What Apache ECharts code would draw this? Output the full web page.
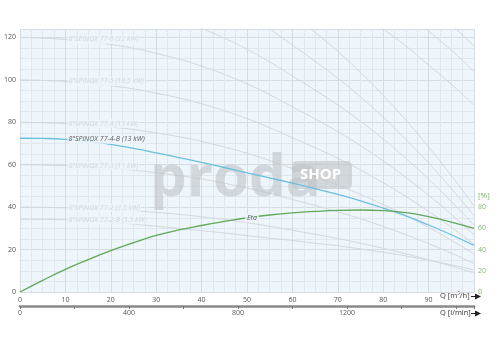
<!DOCTYPE html>
<html><head><meta charset="utf-8">
<script src="https://cdn.jsdelivr.net/npm/echarts@6/dist/echarts.min.js"></script>
<style>html,body{margin:0;padding:0;background:#fff}#c{width:503px;height:350px}</style>
</head><body><div id="c"></div>
<script>
// Flow rate Q [m3/h]
var flowQ = [0,5,10,15,20,25,30,35,40,45,50,55,60,65,70,75,80,85,90,95,100];
// Head curves [m]
var head_77_4_B = [72.5,72.4,72.0,71.1,69.6,67.7,65.6,63.4,61.1,58.7,56.2,53.8,51.3,48.7,46.0,43.0,39.6,35.9,31.6,27.0,22.0];
var eta_77_4_B  = [0,11,21.3,30.5,39,46.5,53.3,58.5,62.7,66.5,70,72.6,74.6,76,77,77.3,76.7,74.8,71,66,60];
var head_77_6   = [120,119.7,119.1,118.2,116.7,114.9,112.5,109.8,106.5,102.6,98.1,93,87.3,81.6,75.6,69,61.8,54,45.6,36.6,27];
var head_77_5   = [100,99.75,99.25,98.5,97.25,95.75,93.75,91.5,88.75,85.5,81.75,77.5,72.75,68,63,57.5,51.5,45,38,30.5,22.5];
var head_77_4   = [80,79.8,79.4,78.8,77.8,76.6,75,73.2,71,68.4,65.4,62,58.2,54.4,50.4,46,41.2,36,30.4,24.4,18];
var head_77_3   = [60,59.85,59.55,59.1,58.35,57.45,56.25,54.9,53.25,51.3,49.05,46.5,43.65,40.8,37.8,34.5,30.9,27,22.8,18.3,13.5];
var head_77_2   = [40,39.9,39.7,39.4,38.9,38.3,37.5,36.6,35.5,34.2,32.7,31,29.1,27.2,25.2,23,20.6,18,15.2,12.2,9];
var head_77_2_B = [34.3,34.25,34.05,33.6,32.9,32,31,30,28.9,27.8,26.6,25.4,24.3,23,21.8,20.3,18.7,17,14.9,12.8,10.4];
// unlabeled curves entering from the top
var head_up_1 = [140,139.65,138.95,137.9,136.15,134.05,131.25,128.1,124.25,119.7,114.45,108.5,101.85,95.2,88.2,80.5,72.1,63,53.2,42.7,31.5];
var head_up_2 = [160,159.6,158.8,157.6,155.6,153.2,150,146.4,142,136.8,130.8,124,116.4,108.8,100.8,92,82.4,72,60.8,48.8,36];
var head_up_3 = [180,179.55,178.65,177.3,175.05,172.35,168.75,164.7,159.75,153.9,147.15,139.5,130.95,122.4,113.4,103.5,92.7,81,68.4,54.9,40.5];
var head_up_4 = [null,null,null,null,null,null,null,null,null,null,null,null,null,null,140,132,124,116,107,98,88];
var head_up_5 = [null,null,null,null,null,null,null,null,null,null,null,null,null,null,null,null,140,132,123,114,104];
var head_up_6 = [null,null,null,null,null,null,null,null,null,null,null,null,null,null,null,null,null,null,135,126,116];

var grayNames = ['8"SPINOX 77-6 (22 kW)','8"SPINOX 77-5 (18.5 kW)','8"SPINOX 77-4 (15 kW)','8"SPINOX 77-3 (11 kW)','8"SPINOX 77-2 (7.5 kW)','8"SPINOX 77-2-B (5.5 kW)'];
var grayCurves = [head_77_6, head_77_5, head_77_4, head_77_3, head_77_2, head_77_2_B];
var extraCurves = [head_up_1, head_up_2, head_up_3, head_up_4, head_up_5, head_up_6];
var mainName = '8"SPINOX 77-4-B (13 kW)';
var etaName = 'Eta';
var leftTicks = [0,20,40,60,80,100,120];
var rightTicks = [0,20,40,60,80];
var lminTicks = [0,400,800,1200];

var BG = '#eef5fb';
var FONT = '"Open Sans", "DejaVu Sans", sans-serif';
function pairs(arr){ return flowQ.map(function(q,i){ return [q, arr[i]]; }); }

var series = [];
extraCurves.concat(grayCurves).forEach(function(c){
  series.push({type:'line', data:pairs(c), symbol:'none', smooth:true, silent:true, z:2, connectNulls:false,
    lineStyle:{color:'#d3d8dc', width:1}});
});
series.push({type:'line', data:pairs(head_77_4_B), symbol:'none', smooth:true, z:4,
  lineStyle:{color:'#6cc0df', width:1.3}});
series.push({type:'line', yAxisIndex:1, data:pairs(eta_77_4_B), symbol:'none', smooth:true, z:4,
  lineStyle:{color:'#62a85a', width:1.3}});
// labels
var labelPts = grayCurves.map(function(c,i){
  return {value:[flowQ[2], c[2]], label:{formatter:grayNames[i], color:'#c9d0d6'}};
});
labelPts.push({value:[flowQ[2], head_77_4_B[2]], label:{formatter:mainName, color:'#333'}});
series.push({type:'scatter', data:labelPts, symbolSize:0, z:10, silent:true,
  label:{show:true, position:'right', distance:2, fontSize:7, fontStyle:'italic', fontFamily:FONT,
    backgroundColor:BG, padding:[1,1]}});
series.push({type:'scatter', yAxisIndex:1, data:[{value:[flowQ[10], eta_77_4_B[10]]}], symbolSize:0, z:10, silent:true,
  label:{show:true, position:'right', distance:-2, formatter:etaName, fontSize:7, fontStyle:'italic', fontFamily:FONT, color:'#333',
    backgroundColor:BG, padding:[1,2]}});

var chart = echarts.init(document.getElementById('c'), null, {renderer:'canvas'});
chart.setOption({
  animation:false,
  backgroundColor:'#fff',
  textStyle:{fontFamily:FONT},
  grid:{left:20, right:29, top:29, bottom:58, show:true, backgroundColor:BG, borderWidth:0},
  xAxis:[{
    type:'value', min:0, max:100, interval:10, position:'bottom',
    axisLine:{show:false, onZero:false}, axisTick:{show:false},
    axisLabel:{fontSize:7, color:'#555', margin:4, formatter:function(v){return v===100?'':v;}},
    splitLine:{show:true, lineStyle:{color:'#d5dce2', width:1}},
    minorTick:{show:false, splitNumber:4},
    minorSplitLine:{show:true, lineStyle:{color:'#e0e8ef', width:1}}
  },{
    type:'value', min:0, max:1666.667, interval:200, position:'bottom', offset:14,
    axisLine:{show:true, onZero:false, lineStyle:{color:'#8a8a8a', width:2.5}},
    axisTick:{show:true, inside:false, length:3, lineStyle:{color:'#777', width:1}},
    axisLabel:{fontSize:7, color:'#555', margin:3, formatter:function(v){return lminTicks.indexOf(v)>=0?v:'';}},
    splitLine:{show:false}
  }],
  yAxis:[{
    type:'value', min:0, max:124, interval:20,
    axisLine:{show:false}, axisTick:{show:false},
    axisLabel:{fontSize:7, color:'#555', margin:4, formatter:function(v){return leftTicks.indexOf(v)>=0?v:'';}},
    splitLine:{show:true, lineStyle:{color:'#d5dce2', width:1}},
    minorTick:{show:false, splitNumber:4},
    minorSplitLine:{show:true, lineStyle:{color:'#e0e8ef', width:1}}
  },{
    type:'value', min:0, max:248, interval:20, position:'right',
    axisLine:{show:false}, axisTick:{show:false},
    axisLabel:{fontSize:7, color:'#7db86f', margin:4, formatter:function(v){return rightTicks.indexOf(v)>=0?v:'';}},
    splitLine:{show:false}
  }],
  graphic:[
    {type:'text', left:150, top:150, z:3, silent:true, style:{text:'proda', font:'bold 58px "Open Sans", sans-serif', fill:'rgba(190,195,198,0.6)'}},
    {type:'rect', left:292, top:161, z:3, silent:true, shape:{width:60, height:28, r:5}, style:{fill:'rgba(190,195,198,0.6)'}},
    {type:'text', left:300, top:167, z:3, silent:true, style:{text:'SHOP', font:'bold 15px "Open Sans", sans-serif', fill:'#fff'}},
    {type:'text', left:478, top:192, style:{text:'[%]', font:'8px "Open Sans", sans-serif', fill:'#7db86f'}},
    {type:'text', left:440, top:292, style:{text:'Q [m³/h]', font:'7.5px "Open Sans", sans-serif', fill:'#333'}},
    {type:'text', left:440, top:309, style:{text:'Q [l/min]', font:'7.5px "Open Sans", sans-serif', fill:'#333'}},
    {type:'line', shape:{x1:471, y1:296.5, x2:477, y2:296.5}, style:{stroke:'#222', lineWidth:1}},
    {type:'polygon', shape:{points:[[475,293.5],[481,296.5],[475,299.5]]}, style:{fill:'#222'}},
    {type:'line', shape:{x1:471, y1:313.5, x2:477, y2:313.5}, style:{stroke:'#222', lineWidth:1}},
    {type:'polygon', shape:{points:[[475,310.5],[481,313.5],[475,316.5]]}, style:{fill:'#222'}}
  ],
  series:series
});
</script></body></html>
